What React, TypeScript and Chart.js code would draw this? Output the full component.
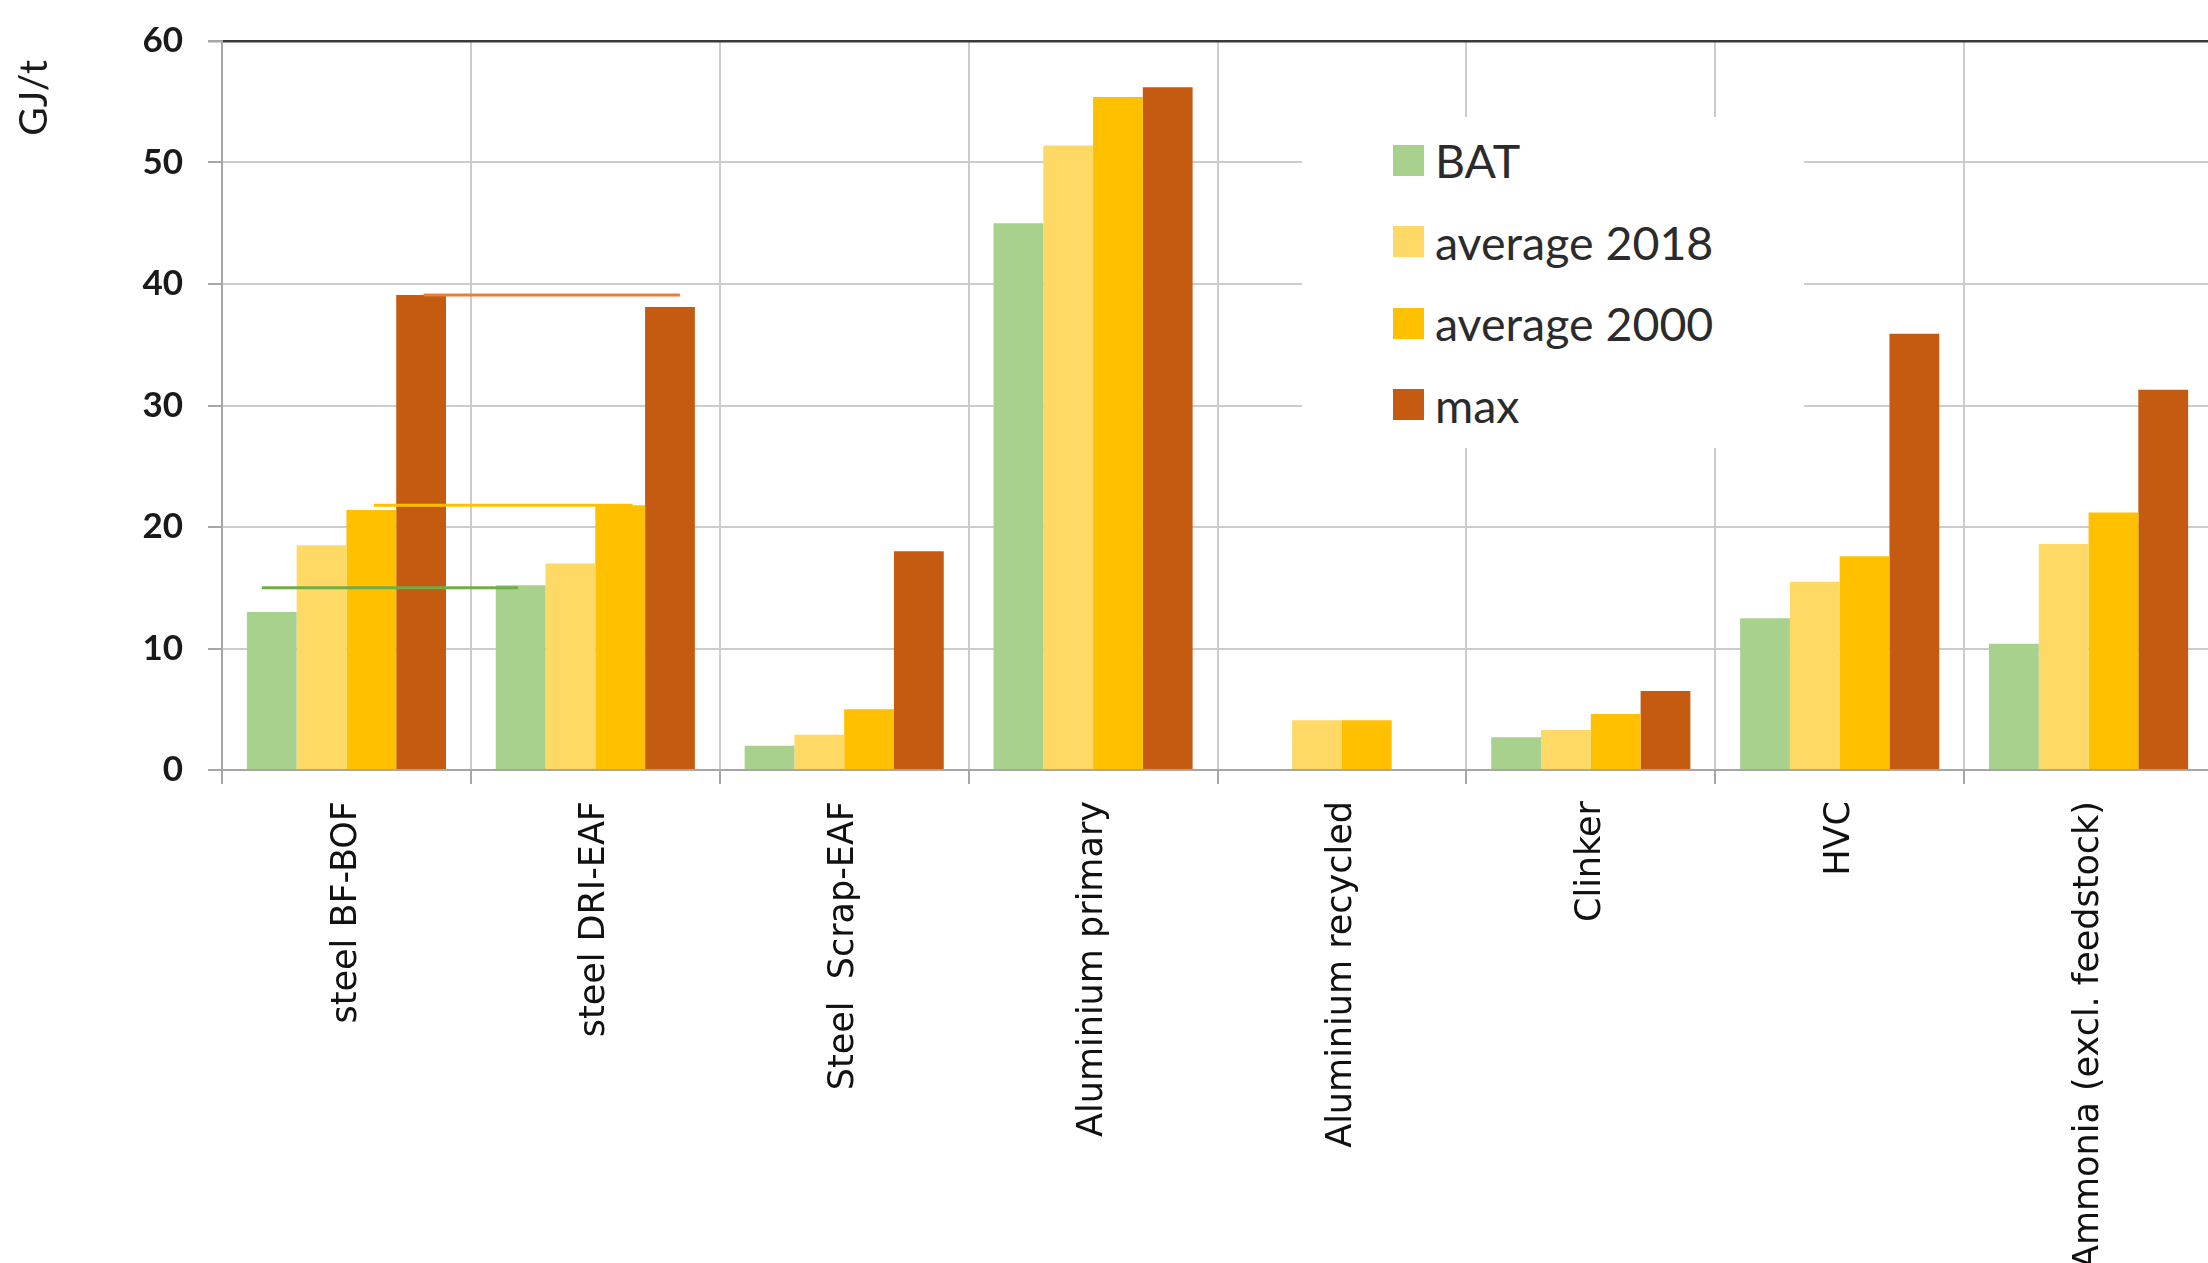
import React, { useEffect, useRef } from 'react';
import { Chart, registerables } from 'chart.js';

Chart.register(...registerables);

// ---------- data ----------
const categories = [
  'steel BF-BOF',
  'steel DRI-EAF',
  'Steel  Scrap-EAF',
  'Aluminium primary',
  'Aluminium recycled',
  'Clinker',
  'HVC',
  'Ammonia (excl. feedstock)',
];
const seriesNames = ['BAT', 'average 2018', 'average 2000', 'max'];
const seriesColors = ['#A9D18E', '#FFD966', '#FFC000', '#C55A11'];
const batValues = [13.0, 15.2, 2.0, 45.0, null, 2.7, 12.5, 10.4];
const avg2018Values = [18.5, 17.0, 2.9, 51.4, 4.1, 3.3, 15.5, 18.6];
const avg2000Values = [21.4, 21.8, 5.0, 55.4, 4.1, 4.6, 17.6, 21.2];
const maxValues = [39.1, 38.1, 18.0, 56.2, null, 6.5, 35.9, 31.3];
const yMin = 0;
const yMax = 60;
const yStep = 10;
const yTitle = 'GJ/t';

// reference lines: value and span expressed in category-index units
const refLineValues = [15.0, 21.8, 39.1];
const refLineColors = ['#70AD47', '#FFC000', '#ED7D31'];
const refLineStart = [-0.34, 0.11, 0.31];
const refLineEnd = [0.69, 1.15, 1.34];

const refLinesPlugin = {
  id: 'refLines',
  afterDatasetsDraw(chart: any) {
    const { ctx, scales } = chart;
    const x = scales.x;
    const y = scales.y;
    ctx.save();
    refLineValues.forEach((v, i) => {
      const py = y.getPixelForValue(v);
      ctx.beginPath();
      ctx.moveTo(x.getPixelForValue(refLineStart[i]), py);
      ctx.lineTo(x.getPixelForValue(refLineEnd[i]), py);
      ctx.strokeStyle = refLineColors[i];
      ctx.lineWidth = 3;
      ctx.stroke();
    });
    ctx.restore();
  },
};

const yTitlePlugin = {
  id: 'yTitleCustom',
  afterDraw(chart: any) {
    const { ctx, scales } = chart;
    const y = scales.y;
    ctx.save();
    ctx.translate(y.left + 34, y.top + 19);
    ctx.rotate(-Math.PI / 2);
    ctx.font = '39px Lato';
    ctx.fillStyle = '#1a1a1a';
    ctx.textAlign = 'right';
    ctx.textBaseline = 'middle';
    ctx.fillText(yTitle, 0, 0);
    ctx.restore();
  },
};

export default function App() {
  const ref = useRef<HTMLCanvasElement>(null);

  useEffect(() => {
    const canvas = ref.current!;
    const seriesData = [batValues, avg2018Values, avg2000Values, maxValues];
    const barSets: any[] = seriesData.map((d, i) => ({
      label: seriesNames[i],
      data: d,
      backgroundColor: seriesColors[i],
      borderWidth: 0,
      categoryPercentage: 0.8,
      barPercentage: 1.0,
    }));

    const chart = new Chart(canvas, {
      type: 'bar',
      data: { labels: categories, datasets: barSets },
      options: {
        animation: false,
        responsive: false,
        devicePixelRatio: 1,
        layout: { padding: { left: 0, right: 3, top: 41, bottom: 0 } },
        plugins: { legend: { display: false }, tooltip: { enabled: false } },
        scales: {
          x: {
            type: 'category',
            offset: true,
            grid: {
              display: true,
              offset: true,
              color: '#cccccc',
              lineWidth: 2,
              drawTicks: true,
              tickLength: 14,
              tickColor: '#a6a6a6',
            },
            border: { display: true, color: '#a6a6a6', width: 2 },
            ticks: {
              autoSkip: false,
              maxRotation: 90,
              minRotation: 90,
              padding: 17,
              color: '#111111',
              font: { family: 'DejaVu Sans', size: 35 },
            },
            afterFit: (s: any) => {
              s.height = 493;
            },
          },
          y: {
            min: yMin,
            max: yMax,
            ticks: {
              stepSize: yStep,
              padding: 25,
              color: '#1a1a1a',
              font: { family: 'Lato', size: 35, weight: 'bold' },
            },
            grid: {
              color: (c: any) => (c.tick && c.tick.value === yMax ? '#3a3a3a' : '#cccccc'),
              lineWidth: (c: any) => (c.tick && c.tick.value === yMax ? 2.5 : 2),
              drawTicks: true,
              tickLength: 14,
              tickColor: '#a6a6a6',
            },
            border: { display: true, color: '#a6a6a6', width: 2 },
            afterFit: (s: any) => {
              s.width = 222;
              s.paddingTop = 10;
              s.paddingBottom = 10;
            },
          },
        },
      } as any,
      plugins: [refLinesPlugin, yTitlePlugin],
    } as any);

    return () => chart.destroy();
  }, []);

  return (
    <div
      style={{
        position: 'fixed',
        left: 0,
        top: 0,
        width: 2208,
        height: 1263,
        overflow: 'hidden',
        background: '#ffffff',
      }}
    >
      <canvas
        ref={ref}
        width={2216}
        height={1263}
        style={{ position: 'absolute', left: 0, top: 0 }}
      />
      <div
        style={{
          position: 'absolute',
          left: 1302,
          top: 117,
          width: 502,
          height: 331,
          background: '#ffffff',
        }}
      >
        {seriesNames.map((name, i) => (
          <div
            key={name}
            style={{
              position: 'absolute',
              left: 91,
              top: 43.4 + i * 81.5 - 30,
              height: 60,
              display: 'flex',
              alignItems: 'center',
              whiteSpace: 'nowrap',
            }}
          >
            <span
              style={{
                display: 'inline-block',
                width: 31,
                height: 31,
                background: seriesColors[i],
                marginRight: 11,
              }}
            />
            <span
              style={{
                fontFamily: 'Lato',
                fontSize: 46.5,
                color: '#2b2b2b',
                lineHeight: '60px',
              }}
            >
              {name}
            </span>
          </div>
        ))}
      </div>
    </div>
  );
}
